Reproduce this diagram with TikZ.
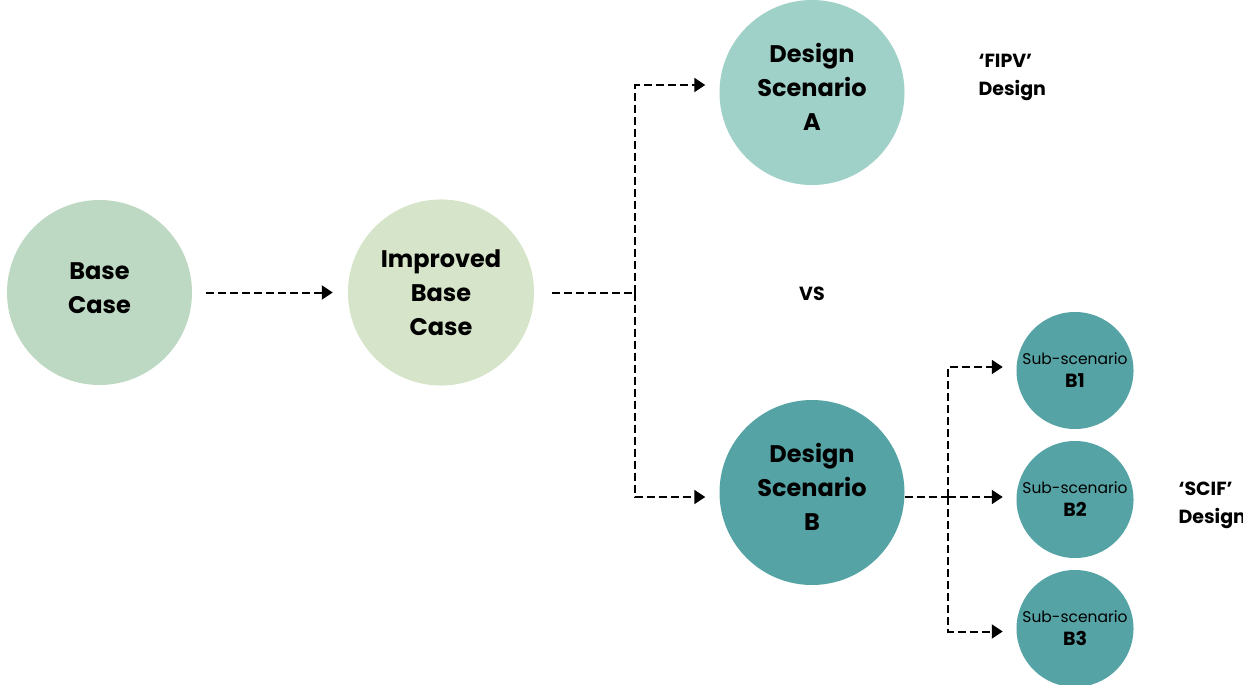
\documentclass[tikz,border=0pt]{standalone}
\usepackage{fontspec}
\setmainfont{Poppins}
\usetikzlibrary{arrows.meta,positioning}
\definecolor{basegreen}{RGB}{189,217,195}
\definecolor{impgreen}{RGB}{214,229,201}
\definecolor{scenAteal}{RGB}{160,209,201}
\definecolor{scenBteal}{RGB}{86,163,166}

\tikzset{
  bigcircle/.style={circle, minimum size=185pt, inner sep=0pt, text width=165pt,
    align=center, font=\fontsize{24}{34}\selectfont\bfseries},
  liftedtext/.style={text height=8pt},
  subcircle/.style={circle, fill=scenBteal, minimum size=113pt, inner sep=0pt,
    text width=112pt, align=center, font=\fontsize{15.5}{23}\selectfont},
  dashline/.style={dash pattern=on 8pt off 4pt, line width=2pt},
  flow/.style={dashline, -{Triangle[length=11pt,width=14pt]}},
  note/.style={anchor=west, align=left, font=\fontsize{19}{28}\selectfont\bfseries}
}

\begin{document}
\begin{tikzpicture}[x=1pt,y=-1pt]
\useasboundingbox (0,0) rectangle (1243,685);

% main chain
\node[bigcircle, liftedtext, fill=basegreen] (base) at (99.5,292.5) {Base\\Case};
\node[bigcircle, fill=impgreen] (improved) at (441,292.5) {Improved\\Base\\Case};
\node[bigcircle, liftedtext, fill=scenAteal] (scenA) at (812,92.5) {Design\\Scenario\\A};
\node[bigcircle, liftedtext, fill=scenBteal] (scenB) at (812,492.5) {Design\\Scenario\\B};

% sub-scenarios of B
\node[subcircle] (subB1) at (1075,370.5) {Sub-scenario\\{\fontsize{19}{23}\selectfont\bfseries B1}};
\node[subcircle] (subB2) at (1075,499.5) {Sub-scenario\\{\fontsize{19}{23}\selectfont\bfseries B2}};
\node[subcircle] (subB3) at (1075,628.5) {Sub-scenario\\{\fontsize{19}{23}\selectfont\bfseries B3}};

% labels
\node[note] (fipv) at (975,77) {‘FIPV’\\Design};
\node[note] (scif) at (1175,505) {‘SCIF’\\Design};
\node[font=\fontsize{19}{23}\selectfont\bfseries] (vs) at (812,294) {VS};

% junctions
\coordinate (split) at (635,292.5);
\coordinate (splitB) at (948,497);

\draw[flow] ([xshift=14pt]base.east) -- ([xshift=-15pt]improved.west);
\draw[dashline] ([xshift=18pt]improved.east) -- (split);
\draw[flow] (split) |- ([xshift=-14pt,yshift=7.5pt]scenA.west);
\draw[flow] (split) |- ([xshift=-14pt,yshift=-4.5pt]scenB.west);

\draw[dashline] ([yshift=-4.5pt]scenB.east) -- (splitB);
\draw[flow] (splitB) -- ([xshift=-13.5pt,yshift=2.5pt]subB2.west);
\draw[flow] (splitB) |- ([xshift=-13.5pt,yshift=3.5pt]subB1.west);
\draw[flow] (splitB) |- ([xshift=-13.5pt,yshift=-3pt]subB3.west);
\end{tikzpicture}
\end{document}
